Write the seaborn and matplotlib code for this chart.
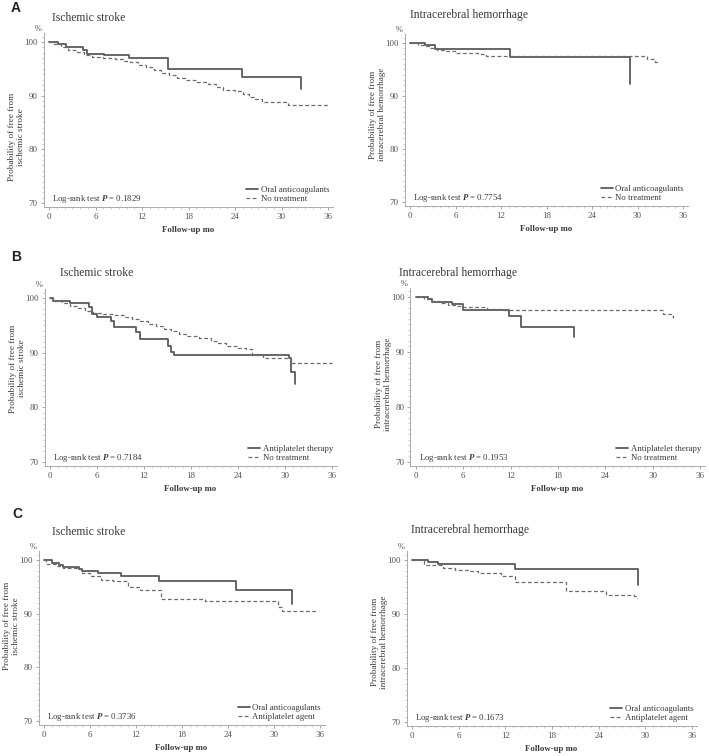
import matplotlib
matplotlib.use("Agg")
import matplotlib.pyplot as plt
import seaborn as sns
import pandas as pd
from matplotlib.ticker import MultipleLocator

# ---- data (months, % event free) ----
# A: oral anticoagulants vs no treatment
a_is_oac_t = [0, 1.1, 2.2, 4.4, 4.9, 7.1, 10.3, 15.3, 24.9, 32.5]
a_is_oac_s = [100, 99.7, 99.1, 98.5, 97.8, 97.5, 97.0, 94.9, 93.4, 91.2]
a_is_nt_t = [0, 0.7, 1.5, 2.5, 3.5, 4.5, 5.5, 7, 8.5, 9.5, 10.5, 11.5, 12.5, 13.5, 14.5,
             15.5, 16.5, 17.5, 19, 20.5, 21.5, 22.5, 24, 25, 25.8, 26.5, 27.5, 30.8, 36]
a_is_nt_s = [100, 99.6, 99.1, 98.6, 98.1, 97.6, 97.2, 97.0, 96.8, 96.5, 96.2, 95.8, 95.3, 94.8, 94.3,
             93.8, 93.3, 92.9, 92.6, 92.1, 91.6, 91.1, 90.8, 90.4, 89.7, 89.3, 88.9, 88.2, 88.2]
a_ich_oac_t = [0, 2, 3.3, 13.2, 29]
a_ich_oac_s = [100, 99.6, 98.9, 97.4, 92.2]
a_ich_nt_t = [0, 1, 1.8, 2.5, 3.5, 4.5, 6, 9, 10, 31.3, 32.3, 32.6]
a_ich_nt_s = [100, 99.7, 99.4, 99.1, 98.7, 98.4, 98.1, 97.9, 97.6, 97.0, 96.5, 96.1]

# B: antiplatelet therapy vs no treatment
b_is_ap_t = [0, 0.4, 2.5, 5, 5.3, 6, 7.8, 8.2, 11, 11.5, 15, 15.4, 15.8, 30.5, 30.8, 31.3]
b_is_ap_s = [100, 99.5, 99.0, 98.4, 97.0, 96.6, 95.8, 94.7, 93.8, 92.5, 91.2, 90.2, 89.5, 89.0, 86.5, 84.2]
b_is_nt_t = [0, 0.5, 1.5, 2.5, 3.5, 4.5, 5.5, 6.5, 8, 9.5, 10.5, 11.5, 12.5, 13.5, 14.5,
             15.5, 16.5, 17.5, 19, 20.5, 21.5, 22.5, 24, 25, 25.8, 27.2, 30.8, 36]
b_is_nt_s = [100, 99.5, 99.0, 98.6, 98.2, 97.7, 97.2, 97.0, 96.8, 96.5, 96.2, 95.8, 95.2, 94.8, 94.4,
             94.0, 93.5, 93.0, 92.7, 92.2, 91.7, 91.2, 90.9, 90.6, 89.6, 89.0, 88.2, 88.2]
b_ich_ap_t = [0, 1.5, 2, 4.5, 6, 11.8, 13.3, 20]
b_ich_ap_s = [100, 99.7, 99.1, 98.7, 97.7, 96.6, 94.5, 92.8]
b_ich_nt_t = [0, 1, 2, 3, 4, 5, 6, 9, 11, 31.3, 32.3, 32.6]
b_ich_nt_s = [100, 99.7, 99.2, 98.9, 98.6, 98.3, 98.2, 97.8, 97.6, 96.9, 96.5, 96.1]

# C: oral anticoagulants vs antiplatelet agent
c_is_oac_t = [0, 1, 2, 2.5, 4.5, 5, 7, 10, 15, 25, 32.3]
c_is_oac_s = [100, 99.5, 99.0, 98.7, 98.3, 97.9, 97.5, 97.0, 96.0, 94.5, 91.8]
c_is_ap_t = [0, 0.3, 1.5, 2.5, 4.5, 5, 6, 7.4, 9, 11, 12.5, 15.3, 21, 30.5, 31, 35.5]
c_is_ap_s = [100, 99.2, 98.9, 98.6, 98.3, 97.6, 97.1, 96.2, 96.1, 95.0, 94.5, 92.8, 92.3, 91.3, 90.5, 90.5]
c_ich_oac_t = [0, 2, 3.3, 13.2, 29.1]
c_ich_oac_s = [100, 99.6, 99.3, 98.4, 95.3]
c_ich_ap_t = [0, 1.5, 4, 5.5, 7.5, 8.5, 11.5, 13.3, 19.8, 25, 28.6, 28.9]
c_ich_ap_s = [100, 99.0, 98.5, 98.2, 98.0, 97.6, 97.1, 95.9, 94.2, 93.6, 93.4, 93.0]

titles = ["Ischemic stroke", "Intracerebral hemorrhage"] * 3
ylabels = ["Probability of free from\nischemic stroke",
           "Probability of free from\nintracerebral hemorrhage"] * 3
group_labels = [("Oral anticoagulants", "No treatment"),
                ("Antiplatelet therapy", "No treatment"),
                ("Oral anticoagulants", "Antiplatelet agent")]
p_values = ["0.1829", "0.7754", "0.7184", "0.1953", "0.3736", "0.1673"]
xticks = [0, 6, 12, 18, 24, 30, 36]
yticks = [70, 80, 90, 100]

curves = [
    ((a_is_oac_t, a_is_oac_s), (a_is_nt_t, a_is_nt_s)),
    ((a_ich_oac_t, a_ich_oac_s), (a_ich_nt_t, a_ich_nt_s)),
    ((b_is_ap_t, b_is_ap_s), (b_is_nt_t, b_is_nt_s)),
    ((b_ich_ap_t, b_ich_ap_s), (b_ich_nt_t, b_ich_nt_s)),
    ((c_is_oac_t, c_is_oac_s), (c_is_ap_t, c_is_ap_s)),
    ((c_ich_oac_t, c_ich_oac_s), (c_ich_ap_t, c_ich_ap_s)),
]

# ---- layout (pixel positions of x=0, x=36, y=100, y=70 in the reference) ----
W, H = 709, 756
XLIM = (-0.7, 36.6)
YLIM = (69.3, 101.7)
anchors = [(49, 328, 42, 203), (410, 683, 43, 202),
           (50, 332, 298, 462), (416, 700, 297, 462),
           (44, 320, 560, 721), (412, 692, 560, 722)]
title_pos = [(52, 18), (410, 15), (60, 273), (399, 273), (52, 532), (411, 530)]
ylabel_y = [0.40, 0.53, 0.55, 0.46, 0.57, 0.48]
letters = [("A", 11, 8), ("B", 11, 257), ("C", 12, 514)]


def rect(x0, x36, y100, y70):
    pm = (x36 - x0) / 36
    pu = (y70 - y100) / 30
    left = x0 + XLIM[0] * pm
    right = x0 + XLIM[1] * pm
    top = y100 - (YLIM[1] - 100) * pu
    bottom = y70 + (70 - YLIM[0]) * pu
    return [left / W, 1 - bottom / H, (right - left) / W, (bottom - top) / H]


sns.set_style("ticks")
plt.rcParams["font.family"] = ["Liberation Serif", "DejaVu Serif"]
plt.rcParams["mathtext.fontset"] = "custom"
plt.rcParams["mathtext.rm"] = "Liberation Serif"
plt.rcParams["mathtext.bfit"] = "Liberation Serif:bold:italic"

fig = plt.figure(figsize=(W / 100, H / 100), dpi=100)
txt = "#3a3a3a"
line_col = "#5a5a5a"

for i in range(6):
    ax = fig.add_axes(rect(*anchors[i]))
    (t1, s1), (t2, s2) = curves[i]
    lab1, lab2 = group_labels[i // 2]
    df1 = pd.DataFrame({"month": t1, "surv": s1})
    df2 = pd.DataFrame({"month": t2, "surv": s2})
    sns.lineplot(data=df1, x="month", y="surv", ax=ax, estimator=None, sort=False,
                 drawstyle="steps-post", color=line_col, lw=1.3, label=lab1)
    sns.lineplot(data=df2, x="month", y="surv", ax=ax, estimator=None, sort=False,
                 drawstyle="steps-post", color="#6a6a6a", lw=0.9,
                 linestyle=(0, (3, 2)), label=lab2)

    ax.set_xlim(*XLIM)
    ax.set_ylim(*YLIM)
    ax.set_xticks(xticks)
    ax.set_yticks(yticks)
    ax.xaxis.set_minor_locator(MultipleLocator(1))
    ax.yaxis.set_minor_locator(MultipleLocator(1))
    ax.tick_params(which="major", length=2.5, width=0.6, color="#999999",
                   labelsize=6.5, labelcolor="#555555", pad=2)
    ax.tick_params(which="minor", length=1.2, width=0.5, color="#bbbbbb")
    ax.set_xlabel("")
    ax.set_ylabel("")
    sns.despine(ax=ax)
    for side in ["left", "bottom"]:
        ax.spines[side].set_color("#aaaaaa")
        ax.spines[side].set_linewidth(0.7)

    leg = ax.legend(loc="lower right", frameon=False, fontsize=6.3, handlelength=1.4,
                    handletextpad=0.3, labelspacing=0.15, borderaxespad=0.3, borderpad=0.1)
    for t in leg.get_texts():
        t.set_color(txt)

    ax.text(0.03, 0.045, r"Log-rank test $\mathbfit{P}$ = " + p_values[i],
            transform=ax.transAxes, fontsize=6.3, color=txt, va="center", ha="left")
    ax.text(-0.008, 1.0, "%", transform=ax.transAxes, fontsize=6, color="#555555",
            ha="right", va="bottom")
    ax.annotate("Follow-up mo", xy=(0.5, 0), xycoords="axes fraction",
                xytext=(0, -16.5), textcoords="offset points", ha="center", va="center",
                fontsize=6.3, fontweight="bold", color=txt)
    ax.annotate(ylabels[i], xy=(0, ylabel_y[i]), xycoords="axes fraction",
                xytext=(-19.5, 0), textcoords="offset points", ha="center", va="center",
                rotation=90, fontsize=6.6, color=txt, linespacing=1.25)

    tx, ty = title_pos[i]
    fig.text(tx / W, 1 - ty / H, titles[i], fontsize=8.4, color=txt, ha="left", va="center")

for letter, lx, ly in letters:
    fig.text(lx / W, 1 - ly / H, letter, fontsize=10, fontweight="bold",
             family="Liberation Sans", color="#222222", ha="left", va="center")

fig.savefig("out.png", dpi=100)
